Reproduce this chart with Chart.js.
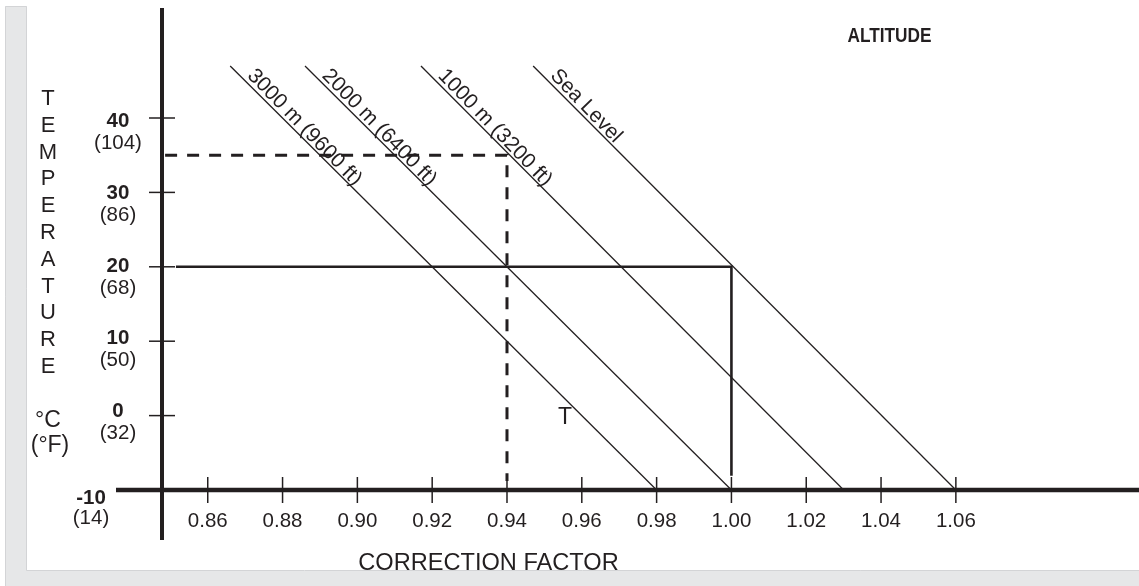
<!DOCTYPE html>
<html><head><meta charset="utf-8">
<script src="https://cdn.jsdelivr.net/npm/chart.js@4.4.1/dist/chart.umd.min.js"></script>
<style>html,body{margin:0;padding:0;background:#fff;overflow:hidden}canvas{display:block}</style>
</head><body>
<canvas id="c" width="1139" height="586"></canvas>
<script>
// ---- data ----
const altitudeLabels = ["3000 m (9600 ft)", "2000 m (6400 ft)", "1000 m (3200 ft)", "Sea Level"];
const altitudeCFAtBottom = [0.98, 1.00, 1.03, 1.06];
const altitudeCFAtTop = [0.866, 0.886, 0.917, 0.947];
const lineTempBottom = -10;
const lineTempTop = 47;
const xTicks = [0.86, 0.88, 0.90, 0.92, 0.94, 0.96, 0.98, 1.00, 1.02, 1.04, 1.06];
const xTickLabels = ["0.86", "0.88", "0.90", "0.92", "0.94", "0.96", "0.98", "1.00", "1.02", "1.04", "1.06"];
const yTicksC = [40, 30, 20, 10, 0, -10];
const yTickLabelsC = ["40", "30", "20", "10", "0", "-10"];
const yTickLabelsF = ["(104)", "(86)", "(68)", "(50)", "(32)", "(14)"];
const yTitleLetters = ["T", "E", "M", "P", "E", "R", "A", "T", "U", "R", "E"];
const yUnitLabels = ["°C", "(°F)"];
const xTitle = "CORRECTION FACTOR";
const legendTitle = "ALTITUDE";
const exampleSolidX = [0.8515, 1.00, 1.00];
const exampleSolidY = [20, 20, -8.1];
const exampleDashedX = [0.8486, 0.94, 0.94];
const exampleDashedY = [35, 35, -8.8];
const markerLabel = "T";
const markerX = 0.9555;
const markerY = 0;
const xRange = [0.84777, 1.10896];
const yRange = [-10, 54.785];

const ink = '#231f20';
const FONT = '"Liberation Sans", Arial, Helvetica, sans-serif';

const datasets = [];
altitudeLabels.forEach((lab, i) => {
  datasets.push({
    label: lab,
    data: [{x: altitudeCFAtTop[i], y: lineTempTop}, {x: altitudeCFAtBottom[i], y: lineTempBottom}],
    borderColor: ink, borderWidth: 1.3, pointRadius: 0, fill: false, tension: 0
  });
});
datasets.push({
  label: 'example solid',
  data: exampleSolidX.map((x, i) => ({x, y: exampleSolidY[i]})),
  borderColor: ink, borderWidth: 2.6, pointRadius: 0, fill: false, tension: 0,
  borderJoinStyle: 'miter', borderCapStyle: 'butt'
});
datasets.push({
  label: 'example dashed',
  data: exampleDashedX.map((x, i) => ({x, y: exampleDashedY[i]})),
  borderColor: ink, borderWidth: 3, borderDash: [12, 10], pointRadius: 0, fill: false, tension: 0,
  borderJoinStyle: 'miter', borderCapStyle: 'butt'
});

const nomogram = {
  id: 'nomogram',
  beforeDraw(chart) {
    const ctx = chart.ctx;
    ctx.save();
    ctx.fillStyle = '#fff';
    ctx.fillRect(0, 0, chart.width, chart.height);
    ctx.fillStyle = '#e6e7e8';
    ctx.fillRect(5, 6, 22, chart.height - 6);
    ctx.fillRect(27, 571, chart.width - 27, chart.height - 571);
    ctx.strokeStyle = '#d3d4d6';
    ctx.lineWidth = 1;
    ctx.beginPath();
    ctx.moveTo(5.5, chart.height); ctx.lineTo(5.5, 6.5); ctx.lineTo(26.5, 6.5); ctx.lineTo(26.5, 570.5); ctx.lineTo(chart.width, 570.5);
    ctx.stroke();
    ctx.restore();
  },
  beforeDatasetsDraw(chart) {
    const ctx = chart.ctx, xs = chart.scales.x, ys = chart.scales.y, ca = chart.chartArea;
    const ax = xs.getPixelForValue(xRange[0]);
    const ay = ys.getPixelForValue(yRange[0]);
    ctx.save();
    ctx.strokeStyle = ink;
    ctx.lineWidth = 4;
    ctx.beginPath(); ctx.moveTo(ax, ca.top); ctx.lineTo(ax, ay + 50); ctx.stroke();
    ctx.lineWidth = 4.5;
    ctx.beginPath(); ctx.moveTo(ax - 46, ay); ctx.lineTo(ca.right, ay); ctx.stroke();
    ctx.lineWidth = 1.5;
    yTicksC.forEach(v => {
      if (v === yRange[0]) return;
      const y = ys.getPixelForValue(v);
      ctx.beginPath(); ctx.moveTo(ax - 13, y); ctx.lineTo(ax + 13, y); ctx.stroke();
    });
    xTicks.forEach(v => {
      const x = xs.getPixelForValue(v);
      ctx.beginPath(); ctx.moveTo(x, ay - 13); ctx.lineTo(x, ay + 13); ctx.stroke();
    });
    ctx.restore();
  },
  afterDatasetsDraw(chart) {
    const ctx = chart.ctx, xs = chart.scales.x, ys = chart.scales.y;
    const ax = xs.getPixelForValue(xRange[0]);
    const ay = ys.getPixelForValue(yRange[0]);
    ctx.save();
    ctx.fillStyle = ink;
    ctx.font = '20.5px ' + FONT;
    ctx.textAlign = 'center';
    ctx.textBaseline = 'alphabetic';
    xTicks.forEach((v, i) => ctx.fillText(xTickLabels[i], xs.getPixelForValue(v), ay + 36.5));
    yTicksC.forEach((v, i) => {
      const y = ys.getPixelForValue(v);
      const isMin = v === yRange[0];
      const cx = isMin ? ax - 71 : ax - 44;
      const off = isMin ? 14 : 1 + v * 0.2;
      ctx.font = 'bold 20.5px ' + FONT;
      ctx.fillText(yTickLabelsC[i], cx, y + off);
      ctx.font = '20.5px ' + FONT;
      ctx.fillText(yTickLabelsF[i], cx, y + off + (isMin ? 20 : 22));
    });
    ctx.font = '22px ' + FONT;
    yTitleLetters.forEach((ch, i) => ctx.fillText(ch, 48, 105 + 26.8 * i));
    ctx.font = '23px ' + FONT;
    ctx.fillText(yUnitLabels[0], 48, 426.5);
    ctx.fillText(yUnitLabels[1], 50, 452);
    ctx.font = '23.6px ' + FONT;
    ctx.fillText(xTitle, 488.5, 569.5);
    ctx.save();
    ctx.font = 'bold 20.5px ' + FONT;
    const w = ctx.measureText(legendTitle).width;
    ctx.translate(847.5, 41.7);
    ctx.scale(84 / w, 1);
    ctx.textAlign = 'left';
    ctx.fillText(legendTitle, 0, 0);
    ctx.restore();
    ctx.font = '23px ' + FONT;
    ctx.fillText(markerLabel, xs.getPixelForValue(markerX), ys.getPixelForValue(markerY) + 8);
    ctx.font = '21px ' + FONT;
    ctx.textAlign = 'left';
    altitudeLabels.forEach((lab, i) => {
      const x0 = xs.getPixelForValue(altitudeCFAtTop[i]), y0 = ys.getPixelForValue(lineTempTop);
      const x1 = xs.getPixelForValue(altitudeCFAtBottom[i]), y1 = ys.getPixelForValue(lineTempBottom);
      const ang = Math.atan2(y1 - y0, x1 - x0);
      const ux = Math.cos(ang), uy = Math.sin(ang);
      const nx = uy, ny = -ux;
      const along = 19, off = 4;
      ctx.save();
      ctx.translate(x0 + ux * along + nx * off, y0 + uy * along + ny * off);
      ctx.rotate(ang + 0.015);
      ctx.fillText(lab, 0, 0);
      ctx.restore();
    });
    ctx.restore();
  }
};

new Chart(document.getElementById('c'), {
  type: 'line',
  data: { datasets },
  options: {
    responsive: false,
    animation: false,
    devicePixelRatio: 1,
    layout: { padding: { left: 162, right: 0, top: 8, bottom: 96 } },
    plugins: { legend: { display: false }, tooltip: { enabled: false }, title: { display: false } },
    scales: {
      x: { type: 'linear', min: xRange[0], max: xRange[1], display: false },
      y: { type: 'linear', min: yRange[0], max: yRange[1], display: false }
    }
  },
  plugins: [nomogram]
});
</script>
</body></html>
